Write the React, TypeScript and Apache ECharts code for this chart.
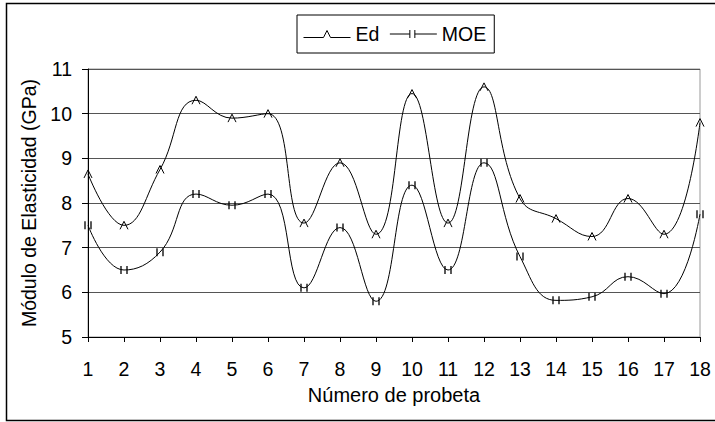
import React, { useEffect, useRef } from "react";
import * as echarts from "echarts";

const categories = ["1", "2", "3", "4", "5", "6", "7", "8", "9", "10", "11", "12", "13", "14", "15", "16", "17", "18"];
const edValues = [8.65, 7.5, 8.75, 10.3, 9.9, 10.0, 7.55, 8.9, 7.3, 10.45, 7.55, 10.6, 8.1, 7.65, 7.25, 8.1, 7.3, 9.8];
const moeValues = [7.5, 6.5, 6.9, 8.2, 7.95, 8.2, 6.1, 7.45, 5.8, 8.4, 6.5, 8.9, 6.8, 5.82, 5.9, 6.35, 5.97, 7.75];
const seriesNames = ["Ed", "MOE"];
const yMin = 5;
const yMax = 11;
const yInterval = 1;

const FONT = "'Liberation Sans', Arial, sans-serif";

export default function App() {
  const ref = useRef<HTMLDivElement>(null);
  useEffect(() => {
    document.body.style.margin = "0";
    const chart = echarts.init(ref.current as HTMLDivElement, null, { renderer: "svg" });
    chart.setOption({
      animation: false,
      backgroundColor: "#fff",
      textStyle: { fontFamily: FONT, color: "#000" },
      grid: { left: 88, right: 15, top: 69, bottom: 85, show: true, borderColor: "#999", borderWidth: 1, backgroundColor: "transparent" },
      legend: {
        left: 297,
        top: 15,
        padding: [9, 8, 9, 6],
        itemGap: 10,
        itemWidth: 47,
        itemHeight: 12,
        borderColor: "#000",
        borderWidth: 1,
        backgroundColor: "#fff",
        textStyle: { fontSize: 19.5, color: "#000", fontFamily: FONT },
        itemStyle: { color: "transparent", borderColor: "#000", borderWidth: 1 },
        data: [
          { name: seriesNames[0], icon: "path://M0 8 L20 8 L23.5 1 L27 8 L47 8" },
          { name: seriesNames[1], icon: "path://M0 4 L20 4 M20 0 L20 8 M25 0 L25 8 M25 4 L47 4" },
        ],
      },
      xAxis: {
        type: "category",
        data: categories,
        boundaryGap: false,
        name: "Número de probeta",
        nameLocation: "middle",
        nameGap: 48,
        nameTextStyle: { fontSize: 20, color: "#000", fontFamily: FONT },
        axisLine: { lineStyle: { color: "#000", width: 1 } },
        axisTick: { show: true, length: 5, lineStyle: { color: "#000" } },
        axisLabel: { fontSize: 19.5, color: "#000", margin: 22, fontFamily: FONT },
        splitLine: { show: false },
      },
      yAxis: {
        type: "value",
        min: yMin,
        max: yMax,
        interval: yInterval,
        name: "Módulo de Elasticidad (GPa)",
        nameLocation: "middle",
        nameRotate: 90,
        nameGap: 45,
        nameTextStyle: { fontSize: 19.5, color: "#000", fontFamily: FONT },
        axisLine: { show: true, lineStyle: { color: "#000", width: 1 } },
        axisTick: { show: true, length: 6, lineStyle: { color: "#000" } },
        axisLabel: { fontSize: 19.5, color: "#000", margin: 16, fontFamily: FONT },
        splitLine: { show: true, lineStyle: { color: "#555", width: 1 } },
      },
      series: [
        {
          name: seriesNames[0],
          type: "line",
          data: edValues,
          smooth: 0.45,
          symbol: "path://M0 8 L4 0 L8 8",
          symbolSize: [8, 8],
          itemStyle: { color: "transparent", borderColor: "#000", borderWidth: 1 },
          lineStyle: { color: "#000", width: 1 },
          z: 3,
        },
        {
          name: seriesNames[1],
          type: "line",
          data: moeValues,
          smooth: 0.45,
          symbol: "path://M0 0 L0 8 M6 0 L6 8",
          symbolSize: [6, 8],
          itemStyle: { color: "transparent", borderColor: "#000", borderWidth: 1.5 },
          lineStyle: { color: "#000", width: 1 },
          z: 3,
        },
      ],
      graphic: [
        {
          type: "rect",
          shape: { x: 6.5, y: 3.5, width: 715, height: 417 },
          style: { fill: "transparent", stroke: "#000", lineWidth: 1.5 },
          silent: true,
          z: 0,
        },
      ],
    });
    return () => chart.dispose();
  }, []);
  return <div ref={ref} style={{ width: 715, height: 422 }} />;
}
